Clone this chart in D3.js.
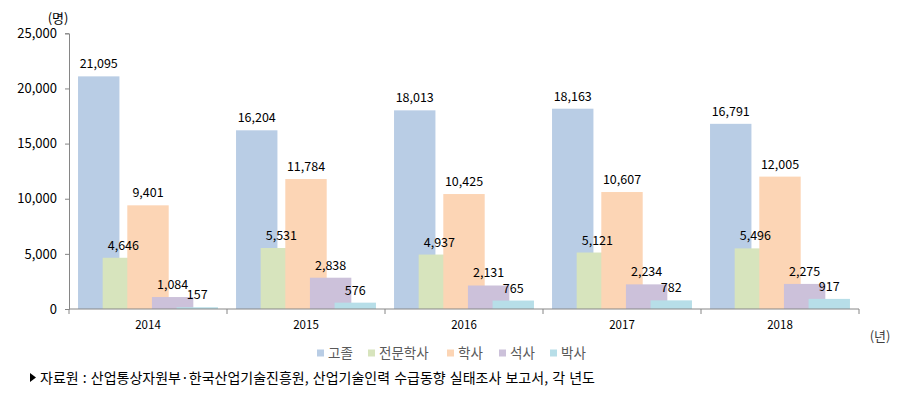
<!DOCTYPE html>
<html><head><meta charset="utf-8">
<script src="https://cdn.jsdelivr.net/npm/d3@7"></script>
<style>
html,body{margin:0;padding:0;background:#fff;}
svg{display:block;font-family:"Noto Sans CJK KR","Noto Sans",sans-serif;}
</style></head>
<body>
<svg id="c" width="901" height="414"></svg>
<script>
const years = ["2014","2015","2016","2017","2018"];
const seriesNames = ["고졸","전문학사","학사","석사","박사"];
const highSchool = [21095,16204,18013,18163,16791];
const associate = [4646,5531,4937,5121,5496];
const bachelor = [9401,11784,10425,10607,12005];
const master = [1084,2838,2131,2234,2275];
const doctor = [157,576,765,782,917];
const yTicks = [0,5000,10000,15000,20000,25000];
const colors = ["#B9CDE5","#D7E4BD","#FCD5B5","#CCC1DA","#B7DEE8"];
const seriesValues = [highSchool, associate, bachelor, master, doctor];

const svg = d3.select("#c");
const x = d3.scaleBand().domain(years).range([69,859]).padding(0);
const y = d3.scaleLinear().domain([0,25000]).range([309,33.3]);
const fmt = d3.format(",");

const bw = x.bandwidth();
const w = bw*0.262;
const step = w*0.595;
const off = (bw - (4*step + w))/2;

// bars, later series on top
seriesValues.forEach((vals, si) => {
  const g = svg.append("g");
  g.selectAll("rect").data(vals).enter().append("rect")
    .attr("x",(d,i)=>x(years[i]) + off + si*step)
    .attr("y",d=>y(d))
    .attr("width",w)
    .attr("height",d=>y(0)-y(d))
    .attr("fill",colors[si]);
});
// labels
seriesValues.forEach((vals, si) => {
  svg.append("g").selectAll("text").data(vals).enter().append("text")
    .attr("x",(d,i)=>x(years[i]) + off + si*step + w/2)
    .attr("y",d=>y(d)-8)
    .attr("text-anchor","middle")
    .attr("font-size","12.5px")
    .attr("fill","#000")
    .text(d=>fmt(d));
});

// y axis
const yAxis = d3.axisLeft(y).tickValues(yTicks).tickFormat(fmt).tickSize(4).tickPadding(8);
const ya = svg.append("g").attr("transform","translate(69,0)").call(yAxis);
ya.select(".domain").attr("stroke","#868686");
ya.selectAll(".tick line").attr("stroke","#868686");
ya.selectAll(".tick text").attr("font-size","13px").attr("fill","#000").attr("font-family","'Noto Sans CJK KR','Noto Sans',sans-serif");

// x axis
const xa = svg.append("g").attr("transform","translate(0,309)");
xa.append("line").attr("x1",69).attr("x2",859).attr("y1",0).attr("y2",0).attr("stroke","#868686");
const bounds = years.map(d=>x(d)).concat([x(years[years.length-1])+bw]);
xa.selectAll("line.t").data(bounds).enter().append("line").attr("class","t")
  .attr("x1",d=>d).attr("x2",d=>d).attr("y1",0).attr("y2",5).attr("stroke","#868686");
xa.selectAll("text").data(years).enter().append("text")
  .attr("x",d=>x(d)+bw/2).attr("y",20)
  .attr("text-anchor","middle").attr("font-size","11.5px").attr("fill","#000")
  .text(d=>d);

// unit labels
svg.append("text").attr("x",58).attr("y",23).attr("text-anchor","middle").attr("font-size","13px").text("(명)");
svg.append("text").attr("x",880).attr("y",341).attr("text-anchor","middle").attr("font-size","13px").attr("fill","#404040").text("(년)");

// legend
const legX = [317,368,447,499,550];
const lg = svg.append("g");
seriesNames.forEach((n,i)=>{
  lg.append("rect").attr("x",legX[i]).attr("y",349.5).attr("width",7).attr("height",7).attr("fill",colors[i]);
  lg.append("text").attr("x",legX[i]+11).attr("y",358).attr("font-size","13.5px").attr("fill","#595959").text(n);
});

// source
svg.append("path").attr("d","M30,373 L36,377.5 L30,382 Z").attr("fill","#000");
svg.append("text").attr("x",40).attr("y",383).attr("font-size","14px").attr("word-spacing","1px").attr("fill","#000")
  .text("자료원 : 산업통상자원부·한국산업기술진흥원, 산업기술인력 수급동향 실태조사 보고서, 각 년도");
</script>
</body></html>
